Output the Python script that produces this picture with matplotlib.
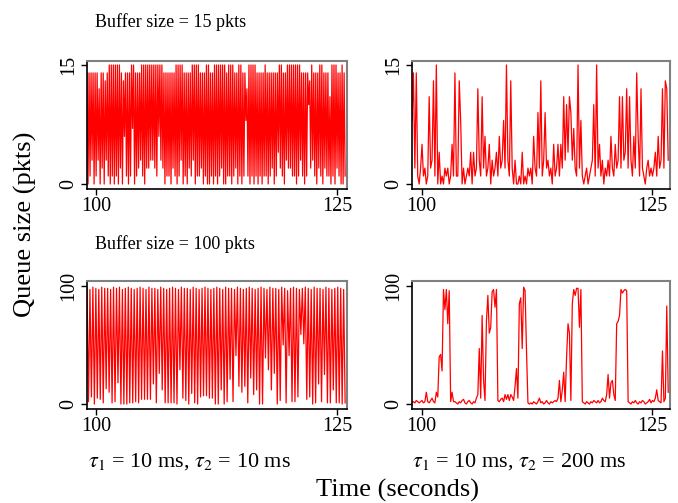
import numpy as np
import matplotlib
matplotlib.use('Agg')
import matplotlib.pyplot as plt

plt.rcParams['font.family'] = ['Liberation Serif', 'DejaVu Serif']
plt.rcParams['mathtext.fontset'] = 'stix'

# Buffer 15 pkts, tau2 = 10 ms: queue alternates between a peak and a trough
tl_peaks = [14, 14, 14, 14, 14, 14, 12, 14, 14, 13,
            14, 15, 15, 15, 15, 15, 15, 14, 13, 14,
            14, 14, 15, 15, 14, 14, 14, 15, 15, 15,
            15, 15, 15, 15, 15, 15, 15, 15, 14, 14,
            14, 14, 14, 14, 15, 15, 15, 15, 14, 14,
            14, 14, 15, 15, 15, 15, 14, 14, 14, 15,
            15, 14, 14, 15, 15, 15, 15, 15, 15, 14,
            15, 15, 15, 14, 14, 15, 15, 14, 14, 12,
            15, 15, 15, 15, 14, 14, 14, 14, 15, 14,
            14, 14, 14, 14, 14, 15, 15, 14, 14, 15,
            15, 15, 15, 15, 15, 15, 14, 14, 14, 14,
            13, 15, 14, 14, 14, 15, 15, 14, 14, 14,
            11, 15, 15, 15, 14, 14, 15, 14]
tl_troughs = [0, 1, 3, 0, 1, 3, 0, 2, 0, 3,
              1, 0, 1, 0, 1, 0, 2, 0, 6, 1,
              0, 1, 7, 0, 1, 2, 3, 1, 0, 2,
              2, 3, 3, 2, 1, 6, 3, 2, 0, 1,
              1, 0, 2, 1, 0, 1, 3, 0, 1, 0,
              2, 1, 3, 0, 1, 1, 2, 0, 1, 0,
              0, 1, 0, 1, 0, 1, 2, 0, 0, 1,
              1, 0, 1, 2, 0, 1, 0, 1, 8, 1,
              0, 1, 0, 1, 0, 1, 0, 1, 1, 0,
              1, 2, 0, 1, 4, 2, 1, 0, 3, 2,
              2, 1, 1, 0, 1, 3, 1, 0, 1, 10,
              2, 3, 1, 0, 2, 1, 0, 2, 1, 1,
              0, 1, 0, 2, 1, 0, 0, 1]

# Buffer 15 pkts, tau2 = 200 ms (regular samples)
tr_queue = [8, 14, 2, 14, 1, 0, 2, 5, 1, 2,
            0, 1, 11, 2, 3, 13, 1, 15, 0, 4,
            0, 1, 0, 2, 1, 2, 0, 1, 5, 1,
            14, 1, 1, 13, 8, 0, 2, 0, 1, 2,
            1, 4, 0, 4, 1, 2, 12, 3, 1, 11,
            2, 6, 1, 2, 5, 0, 3, 1, 2, 4,
            1, 6, 2, 3, 8, 2, 15, 3, 1, 13,
            2, 0, 3, 0, 0, 1, 0, 4, 0, 1,
            0, 2, 1, 2, 0, 6, 2, 1, 9, 2,
            13, 1, 3, 9, 2, 3, 1, 2, 0, 5,
            1, 2, 5, 1, 5, 2, 11, 3, 10, 4,
            11, 9, 3, 7, 2, 1, 15, 2, 8, 1,
            0, 1, 2, 0, 1, 2, 3, 10, 1, 15,
            2, 5, 1, 3, 0, 2, 1, 3, 1, 6,
            2, 1, 5, 2, 3, 11, 2, 11, 3, 4,
            12, 2, 11, 3, 1, 6, 2, 14, 6, 1,
            12, 2, 1, 0, 2, 3, 1, 2, 1, 2,
            4, 1, 6, 2, 3, 12, 2, 13, 12, 3]

# Buffer 100 pkts, tau2 = 10 ms
bl_peaks = [98, 97, 99, 98, 97, 99, 98, 98, 97, 99,
            98, 99, 97, 98, 99, 98, 97, 98, 99, 98,
            97, 99, 98, 98, 97, 99, 98, 97, 98, 99,
            98, 97, 99, 98, 98, 97, 99, 98, 97, 98,
            99, 98, 97, 98, 99, 98, 97, 99, 98, 98,
            97, 99, 98, 97, 98, 99, 98, 97, 98, 99,
            98, 97, 99, 98, 98, 97, 99, 98, 96, 98,
            99, 98, 97, 98, 99, 98, 97, 99, 98, 98,
            97, 99, 98, 97, 98, 99, 98, 97]
bl_troughs = [2, 6, 0, 5, 4, 1, 13, 10, 1, 2,
              18, 0, 0, 0, 1, 1, 2, 1, 4, 4,
              4, 4, 17, 1, 26, 12, 1, 1, 1, 1,
              0, 29, 5, 3, 0, 9, 1, 0, 6, 7,
              7, 5, 5, 0, 0, 12, 0, 2, 21, 2,
              41, 15, 10, 15, 1, 22, 8, 12, 0, 0,
              39, 29, 12, 26, 0, 3, 50, 1, 41, 2,
              2, 6, 59, 51, 4, 6, 0, 1, 17, 2,
              25, 1, 1, 12, 1, 1, 0, 1]

# Buffer 100 pkts, tau2 = 200 ms (regular samples)
br_queue = [1, 2, 1, 3, 2, 1, 2, 3, 1, 2,
            10, 2, 1, 3, 5, 2, 1, 10, 6, 40,
            42, 28, 97, 80, 97, 68, 96, 2, 10, 2,
            2, 1, 0, 2, 1, 3, 4, 1, 0, 2,
            3, 1, 0, 2, 1, 5, 8, 47, 5, 75,
            20, 3, 70, 92, 60, 65, 95, 97, 82, 97,
            3, 2, 4, 5, 2, 8, 4, 8, 3, 8,
            6, 3, 15, 30, 5, 85, 90, 47, 99, 96,
            45, 1, 0, 1, 0, 2, 1, 0, 2, 5,
            1, 2, 0, 1, 3, 1, 0, 2, 1, 2,
            3, 2, 5, 20, 2, 12, 27, 2, 40, 68,
            60, 3, 85, 97, 92, 98, 98, 65, 97, 2,
            1, 0, 2, 1, 0, 2, 1, 3, 2, 1,
            3, 1, 2, 5, 3, 2, 8, 25, 5, 18,
            20, 8, 3, 68, 70, 75, 97, 94, 96, 97,
            96, 2, 1, 0, 2, 1, 3, 1, 0, 2,
            1, 3, 2, 0, 1, 2, 4, 1, 3, 2,
            5, 12, 3, 2, 1, 45, 2, 5, 83, 10]


def alternate(peaks, troughs):
    out = []
    for p, q in zip(peaks, troughs):
        out += [p, q]
    return np.array(out)


tl_q = alternate(tl_peaks, tl_troughs)
bl_q = alternate(bl_peaks, bl_troughs)
tl_t = 99.07 + np.arange(len(tl_q)) * 0.105
bl_t = 99.07 + np.arange(len(bl_q)) * 0.153
tr_t = 98.96 + np.arange(len(tr_queue)) * 0.155
br_t = 98.96 + np.arange(len(br_queue)) * 0.155

W, H = 678, 503
fig = plt.figure(figsize=(W / 100, H / 100), dpi=100)


def make_ax(x0, y0, x1, y1):
    return fig.add_axes([x0 / W, 1 - y1 / H, (x1 - x0) / W, (y1 - y0) / H])


panels = [
    (make_ax(87, 61, 347, 189), tl_t, tl_q, (99.07, 126.04), (-0.63, 15.5), [0, 15]),
    (make_ax(412, 61, 670, 189), tr_t, tr_queue, (98.96, 126.9), (-0.63, 15.5), [0, 15]),
    (make_ax(87, 281, 347, 409), bl_t, bl_q, (99.07, 126.04), (-4.2, 104.2), [0, 100]),
    (make_ax(412, 281, 670, 409), br_t, br_queue, (98.96, 126.9), (-4.2, 104.2), [0, 100]),
]

for ax, t, q, xl, yl, yt in panels:
    ax.plot(t, q, color='red', lw=0.9)
    ax.set_xlim(*xl)
    ax.set_ylim(*yl)
    ax.set_xticks([100, 125])
    ax.set_yticks(yt)
    ax.tick_params(direction='out', length=4, width=1, labelsize=14.5, pad=2)
    ax.tick_params(axis='y', labelrotation=90)
    for lab in ax.get_yticklabels():
        lab.set_va('center')
    for s in ['top', 'right']:
        ax.spines[s].set_color('#808080')
        ax.spines[s].set_linewidth(1.5)
    for s in ['left', 'bottom']:
        ax.spines[s].set_linewidth(1.2)

fig.text(95 / W, 1 - 22 / H, 'Buffer size = 15 pkts', fontsize=13, va='center')
fig.text(95 / W, 1 - 244 / H, 'Buffer size = 100 pkts', fontsize=13, va='center')
fig.text(88 / W, 1 - 462 / H, r'$\tau_1$ = 10 ms, $\tau_2$ = 10 ms', fontsize=16, va='center')
fig.text(412 / W, 1 - 462 / H, r'$\tau_1$ = 10 ms, $\tau_2$ = 200 ms', fontsize=16, va='center')
fig.text(398 / W, 1 - 490 / H, 'Time (seconds)', fontsize=19, ha='center', va='center')
fig.text(25 / W, 1 - 224 / H, 'Queue size (pkts)', fontsize=19, ha='center', va='center',
         rotation=90)

fig.savefig('out.png', dpi=100)
